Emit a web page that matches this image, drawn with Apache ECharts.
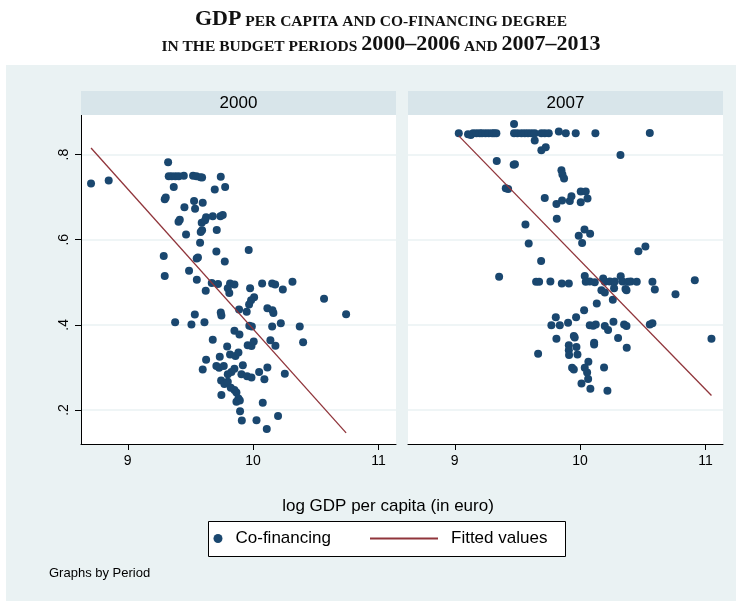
<!DOCTYPE html>
<html>
<head>
<meta charset="utf-8">
<script src="https://cdn.jsdelivr.net/npm/echarts@6/dist/echarts.min.js"></script>
<style>
  html, body { margin: 0; padding: 0; background: #fff; }
  #chart { width: 736px; height: 601px; }
</style>
</head>
<body>
<div id="chart"></div>
<script>
// budget period panels
const periods = ['2000', '2007'];

// 2000-2006: log GDP per capita / co-financing degree
const gdp2000 = [
  8.707, 8.848, 9.322, 9.327, 9.351, 9.380, 9.407, 9.447, 9.521, 9.548,
  9.580, 9.593, 9.742, 9.367, 9.694, 9.777, 9.295, 9.303, 9.452, 9.529,
  9.537, 9.598, 9.405, 9.415, 9.625, 9.678, 9.739, 9.758, 9.590, 9.617,
  9.465, 9.582, 9.593, 9.710, 9.577, 9.287, 9.707, 9.965, 9.550, 9.560,
  9.774, 9.489, 9.295, 9.551, 9.670, 9.720, 9.816, 9.851, 9.798, 9.810,
  9.622, 9.976, 10.072, 10.152, 10.176, 10.237, 10.314, 10.008, 9.984, 9.968,
  10.114, 10.154, 10.162, 10.566, 10.742, 9.888, 9.949, 9.742, 9.747, 9.535,
  9.378, 9.508, 9.612, 9.970, 9.990, 10.152, 10.221, 10.372, 9.851, 9.891,
  9.678, 10.138, 10.178, 10.399, 9.957, 9.987, 10.005, 9.793, 9.816, 9.859,
  9.883, 9.734, 9.625, 9.707, 9.729, 9.766, 9.918, 9.598, 9.851, 9.827,
  9.798, 9.907, 9.952, 9.987, 10.048, 10.114, 10.090, 10.253, 9.745, 9.771,
  9.798, 9.822, 9.851, 9.867, 9.883, 9.894, 9.867, 9.747, 10.077, 9.896,
  9.910, 10.027, 10.199, 10.109
];
const cof2000 = [
  0.732, 0.739, 0.782, 0.749, 0.749, 0.749, 0.749, 0.750, 0.750, 0.749,
  0.747, 0.746, 0.748, 0.724, 0.718, 0.724, 0.695, 0.699, 0.676, 0.691,
  0.673, 0.687, 0.642, 0.647, 0.653, 0.655, 0.655, 0.658, 0.640, 0.646,
  0.612, 0.618, 0.622, 0.623, 0.593, 0.562, 0.572, 0.576, 0.556, 0.558,
  0.549, 0.527, 0.515, 0.506, 0.498, 0.496, 0.497, 0.495, 0.486, 0.475,
  0.480, 0.486, 0.497, 0.497, 0.495, 0.483, 0.501, 0.465, 0.458, 0.448,
  0.439, 0.434, 0.428, 0.461, 0.425, 0.436, 0.431, 0.429, 0.422, 0.424,
  0.406, 0.401, 0.406, 0.398, 0.396, 0.396, 0.404, 0.396, 0.386, 0.377,
  0.365, 0.364, 0.351, 0.359, 0.352, 0.350, 0.361, 0.349, 0.330, 0.327,
  0.335, 0.325, 0.318, 0.303, 0.299, 0.303, 0.305, 0.295, 0.297, 0.289,
  0.284, 0.284, 0.279, 0.276, 0.289, 0.300, 0.272, 0.285, 0.269, 0.261,
  0.266, 0.252, 0.247, 0.241, 0.227, 0.222, 0.219, 0.235, 0.217, 0.197,
  0.175, 0.176, 0.186, 0.155
];

// 2007-2013
const gdp2007 = [
  9.032, 9.106, 9.128, 9.146, 9.173, 9.199, 9.218, 9.245, 9.271, 9.298,
  9.314, 9.332, 9.473, 9.500, 9.532, 9.559, 9.585, 9.612, 9.638, 9.691,
  9.718, 9.750, 9.830, 9.886, 9.965, 10.122, 10.556, 9.473, 9.638, 9.691,
  9.726, 10.322, 9.335, 9.470, 9.480, 9.851, 9.859, 9.872, 9.407, 9.426,
  9.718, 9.811, 9.856, 9.918, 9.931, 10.005, 10.045, 10.059, 10.005, 9.564,
  9.814, 10.035, 9.989, 10.080, 10.016, 9.590, 10.465, 10.521, 9.689, 9.354,
  9.649, 9.673, 9.763, 9.854, 9.910, 10.037, 10.045, 10.077, 10.117, 10.184,
  10.197, 10.237, 10.277, 10.324, 10.338, 10.383, 10.404, 10.452, 10.577, 10.915,
  10.170, 10.197, 10.271, 10.362, 10.370, 10.596, 10.761, 10.261, 10.133, 10.032,
  9.806, 9.968, 9.771, 9.838, 9.904, 10.077, 10.104, 10.125, 10.197, 10.223,
  10.266, 10.351, 10.370, 10.556, 10.577, 11.048, 9.811, 9.957, 9.950, 10.112,
  10.112, 10.303, 10.372, 9.910, 9.971, 9.910, 9.979, 9.912, 9.665, 9.936,
  9.950, 10.066, 10.037, 10.056, 10.064, 10.191, 10.011, 10.082, 10.218
];
const cof2007 = [
  0.850, 0.848, 0.846, 0.850, 0.850, 0.850, 0.850, 0.850, 0.850, 0.850,
  0.850, 0.850, 0.850, 0.850, 0.850, 0.850, 0.850, 0.850, 0.850, 0.850,
  0.850, 0.850, 0.854, 0.850, 0.850, 0.850, 0.851, 0.872, 0.833, 0.810,
  0.817, 0.799, 0.785, 0.776, 0.777, 0.763, 0.753, 0.744, 0.721, 0.719,
  0.698, 0.684, 0.692, 0.691, 0.702, 0.713, 0.713, 0.697, 0.688, 0.636,
  0.649, 0.624, 0.609, 0.614, 0.592, 0.591, 0.573, 0.584, 0.550, 0.513,
  0.501, 0.501, 0.502, 0.497, 0.497, 0.515, 0.501, 0.502, 0.500, 0.509,
  0.501, 0.502, 0.502, 0.514, 0.502, 0.501, 0.502, 0.501, 0.501, 0.505,
  0.481, 0.476, 0.486, 0.484, 0.481, 0.483, 0.472, 0.459, 0.450, 0.434,
  0.418, 0.418, 0.399, 0.399, 0.405, 0.399, 0.398, 0.401, 0.397, 0.388,
  0.407, 0.401, 0.397, 0.401, 0.404, 0.367, 0.367, 0.370, 0.374, 0.358,
  0.354, 0.369, 0.346, 0.352, 0.348, 0.340, 0.330, 0.329, 0.332, 0.299,
  0.295, 0.313, 0.299, 0.288, 0.273, 0.300, 0.262, 0.250, 0.245
];

// fitted values (end points of the OLS line in each panel)
const fitX2000 = [8.707, 10.742];
const fitY2000 = [0.8155, 0.146];
const fitX2007 = [9.032, 11.048];
const fitY2007 = [0.844, 0.234];

const xTicks = [9, 10, 11];
const yTicks = [0.2, 0.4, 0.6, 0.8];

const font = 'Liberation Sans, Arial, sans-serif';
const serif = 'Liberation Serif, Times New Roman, serif';
const navy = '#1a476f';
const maroon = '#90353b';

const zip = (xs, ys) => xs.map((x, i) => [x, ys[i]]);

const panels = [
  {x: gdp2000, y: cof2000, fx: fitX2000, fy: fitY2000},
  {x: gdp2007, y: cof2007, fx: fitX2007, fy: fitY2007}
];
const gridLeft = [81, 408];

let chart = echarts.init(document.getElementById('chart'));

let option = {
  animation: false,
  backgroundColor: 'transparent',
  title: {
    left: 376,
    top: 0,
    textAlign: 'center',
    text: '{big|GDP}{sc| PER CAPITA AND CO-FINANCING DEGREE}\n' +
          '{sc|IN THE BUDGET PERIODS }{big|2000–2006}{sc| AND }{big|2007–2013}',
    textStyle: {
      rich: {
        big: {fontFamily: serif, fontWeight: 'bold', fontSize: 22, lineHeight: 25, color: '#111', verticalAlign: 'bottom'},
        sc : {fontFamily: serif, fontWeight: 'bold', fontSize: 15.5, lineHeight: 25, color: '#111', verticalAlign: 'bottom'}
      }
    }
  },
  grid: gridLeft.map(l => ({
    left: l, top: 115, width: 315, height: 329,
    show: true, backgroundColor: '#fff', borderWidth: 0
  })),
  xAxis: gridLeft.map((l, i) => ({
    type: 'value', gridIndex: i, min: 8.627, max: 11.14,
    axisLine: {show: true, onZero: false, lineStyle: {color: '#000', width: 1}},
    axisTick: {show: true, length: 6, customValues: xTicks, lineStyle: {color: '#000'}},
    axisLabel: {customValues: xTicks, fontFamily: font, fontSize: 14, color: '#000', margin: 10},
    splitLine: {show: false}
  })),
  yAxis: gridLeft.map((l, i) => ({
    type: 'value', gridIndex: i, min: 0.12, max: 0.893,
    axisLine: {show: i === 0, lineStyle: {color: '#000', width: 1}},
    axisTick: {show: i === 0, length: 6, customValues: yTicks, lineStyle: {color: '#000'}},
    axisLabel: {
      show: i === 0, customValues: yTicks, rotate: 90, margin: 10,
      fontFamily: font, fontSize: 14, color: '#000',
      formatter: v => v.toFixed(1).replace(/^0/, '')
    },
    splitLine: {show: true, lineStyle: {color: '#eaf2f3', width: 1.5}}
  })),
  legend: [
    {
      data: [{name: 'Co-financing', icon: 'circle'}],
      left: 213.5, top: 530, padding: 0, itemWidth: 9, itemHeight: 9,
      selectedMode: false, z: 5,
      textStyle: {fontFamily: font, fontSize: 17, color: '#000', padding: [0, 0, 0, 8]}
    },
    {
      data: ['Fitted values'],
      left: 369, top: 530, padding: 0, itemWidth: 68, itemHeight: 14,
      selectedMode: false, z: 5,
      itemStyle: {opacity: 0},
      textStyle: {fontFamily: font, fontSize: 17, color: '#000', padding: [0, 0, 0, 8]}
    }
  ],
  series: [],
  graphic: [
    {type: 'rect', z: -10, shape: {x: 6, y: 65, width: 730, height: 536}, style: {fill: '#eaf2f3'}},
    {type: 'rect', z: 1, shape: {x: 208.5, y: 521.5, width: 357, height: 35}, style: {fill: '#fff', stroke: '#000', lineWidth: 1}},
    {type: 'text', x: 388, y: 506, style: {text: 'log GDP per capita (in euro)', fontFamily: font, fontSize: 17, fill: '#000', align: 'center', verticalAlign: 'middle'}},
    {type: 'text', x: 49, y: 573, style: {text: 'Graphs by Period', fontFamily: font, fontSize: 13, fill: '#000', align: 'left', verticalAlign: 'middle'}}
  ]
};

// panel strips + series
panels.forEach((p, i) => {
  option.graphic.push(
    {type: 'rect', z: 1, shape: {x: gridLeft[i], y: 91, width: 315, height: 24}, style: {fill: '#d8e5ea'}},
    {type: 'text', z: 2, x: gridLeft[i] + 157.5, y: 103.5,
     style: {text: periods[i], fontFamily: font, fontSize: 17, fill: '#000', align: 'center', verticalAlign: 'middle'}}
  );
  option.series.push(
    {
      name: 'Co-financing', type: 'scatter', xAxisIndex: i, yAxisIndex: i,
      data: zip(p.x, p.y), symbolSize: 8, z: 3,
      itemStyle: {color: navy, opacity: 1}
    },
    {
      name: 'Fitted values', type: 'line', xAxisIndex: i, yAxisIndex: i,
      data: zip(p.fx, p.fy), symbol: 'none', z: 4,
      lineStyle: {color: maroon, width: 1.3}, itemStyle: {color: maroon}
    }
  );
});

chart.setOption(option);
</script>
</body>
</html>
